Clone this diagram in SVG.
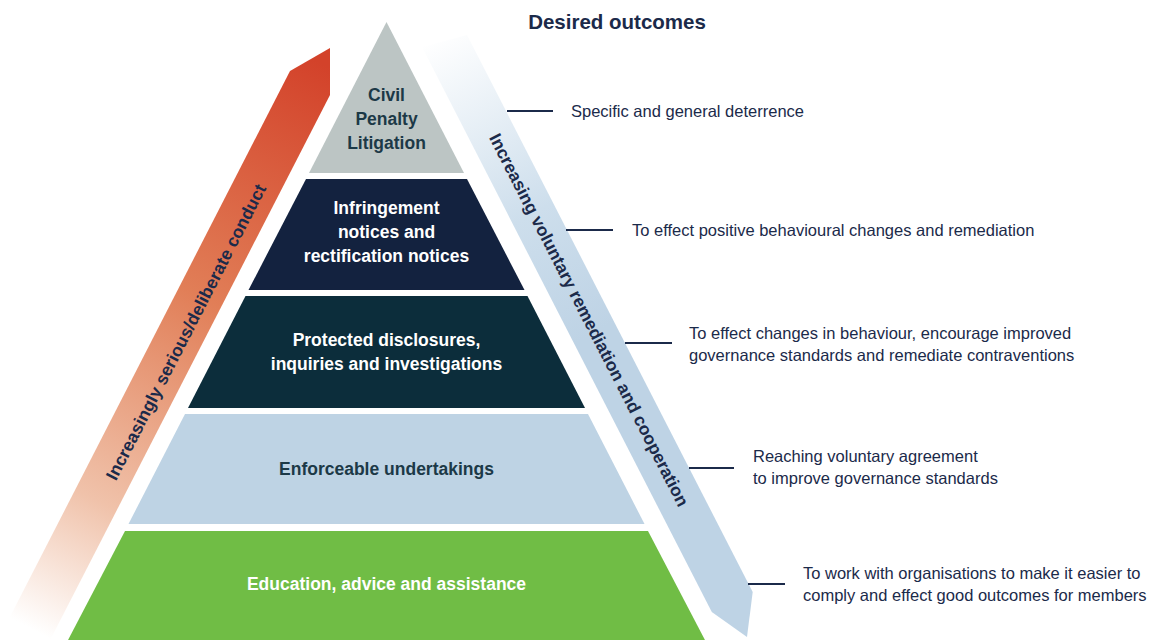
<svg xmlns="http://www.w3.org/2000/svg" width="1152" height="640" viewBox="0 0 1152 640">
  <defs>
    <linearGradient id="gradSerious" gradientUnits="userSpaceOnUse" x1="315" y1="60" x2="10" y2="640">
      <stop offset="0" stop-color="#d3422a"/>
      <stop offset="0.4" stop-color="#e17e57"/>
      <stop offset="0.75" stop-color="#f0c2aa"/>
      <stop offset="0.97" stop-color="#ffffff"/>
    </linearGradient>
    <linearGradient id="gradVoluntary" gradientUnits="userSpaceOnUse" x1="440" y1="35" x2="600" y2="330">
      <stop offset="0" stop-color="#ffffff"/>
      <stop offset="0.6" stop-color="#cddeec"/>
      <stop offset="1" stop-color="#bed3e5"/>
    </linearGradient>
    <style>
      .tier-label { font-family: "Liberation Sans", Arial, sans-serif; font-weight: bold; font-size: 17.5px; text-anchor: middle; }
      .dark { fill: #1c3947; }
      .light { fill: #ffffff; }
      .band-label { font-family: "Liberation Sans", Arial, sans-serif; font-weight: bold; font-size: 17.5px; text-anchor: middle; fill: #1b2a4a; }
      .outcome { font-family: "Liberation Sans", Arial, sans-serif; font-size: 16.5px; fill: #1b2a4a; }
      .title { font-family: "Liberation Sans", Arial, sans-serif; font-weight: bold; font-size: 20.5px; fill: #1b2a4a; text-anchor: middle; }
      .leader { stroke: #1b2a4a; stroke-width: 1.8; fill: none; }
    </style>
  </defs>

  <rect x="0" y="0" width="1152" height="640" fill="#ffffff"/>

  <text class="title" x="617" y="29">Desired outcomes</text>

  <!-- Side bands -->
  <g id="band-serious">
    <polygon points="290,71 330,48 330,95 45,650 -7,650" fill="url(#gradSerious)"/>
    <text class="band-label" transform="translate(186,332) rotate(-62.84)" dominant-baseline="central">Increasingly serious/deliberate conduct</text>
  </g>

  <g id="band-voluntary">
    <polygon points="422,47 467,35 752.7,592 747,637 711.8,612" fill="url(#gradVoluntary)"/>
    <text class="band-label" transform="translate(589,320) rotate(62.84)" dominant-baseline="central">Increasing voluntary remediation and cooperation</text>
  </g>

  <!-- Pyramid tiers, top to bottom -->
  <g id="tier-civil-penalty">
    <polygon points="386.5,22 464,173 309,173" fill="#bcc5c4"/>
    <text class="tier-label dark" x="386.5" y="101">Civil</text>
    <text class="tier-label dark" x="386.5" y="125">Penalty</text>
    <text class="tier-label dark" x="386.5" y="149">Litigation</text>
  </g>

  <g id="tier-infringement">
    <polygon points="306,179 467,179 524.5,290 248.5,290" fill="#13223f"/>
    <text class="tier-label light" x="386.5" y="214">Infringement</text>
    <text class="tier-label light" x="386.5" y="238">notices and</text>
    <text class="tier-label light" x="386.5" y="262">rectification notices</text>
  </g>

  <g id="tier-disclosures">
    <polygon points="245.5,296 527.5,296 585,408 188,408" fill="#0c2d3b"/>
    <text class="tier-label light" x="386.5" y="346">Protected disclosures,</text>
    <text class="tier-label light" x="386.5" y="370">inquiries and investigations</text>
  </g>

  <g id="tier-undertakings">
    <polygon points="185,414 588,414 644.5,524 128.5,524" fill="#bed3e4"/>
    <text class="tier-label dark" x="386.5" y="475">Enforceable undertakings</text>
  </g>

  <g id="tier-education">
    <polygon points="125,531 648,531 706,642 67,642" fill="#70bd45"/>
    <text class="tier-label light" x="386.5" y="590">Education, advice and assistance</text>
  </g>

  <!-- Leader lines from the pyramid to each outcome -->
  <g id="connectors">
    <line class="leader" x1="507" y1="111" x2="553" y2="111"/>
    <line class="leader" x1="566" y1="230" x2="613" y2="230"/>
    <line class="leader" x1="625" y1="343" x2="672" y2="343"/>
    <line class="leader" x1="689" y1="468" x2="734" y2="468"/>
    <line class="leader" x1="748" y1="584" x2="785" y2="584"/>
  </g>

  <!-- Outcome descriptions -->
  <g id="outcome-deterrence">
    <text class="outcome" x="571" y="116.5">Specific and general deterrence</text>
  </g>
  <g id="outcome-behavioural">
    <text class="outcome" x="632" y="235.5">To effect positive behavioural changes and remediation</text>
  </g>
  <g id="outcome-governance">
    <text class="outcome" x="689" y="338.5">To effect changes in behaviour, encourage improved</text>
    <text class="outcome" x="689" y="360.5">governance standards and remediate contraventions</text>
  </g>
  <g id="outcome-agreement">
    <text class="outcome" x="753" y="461.5">Reaching voluntary agreement</text>
    <text class="outcome" x="753" y="483.5">to improve governance standards</text>
  </g>
  <g id="outcome-compliance">
    <text class="outcome" x="803" y="578.5">To work with organisations to make it easier to</text>
    <text class="outcome" x="803" y="600.5">comply and effect good outcomes for members</text>
  </g>
</svg>
